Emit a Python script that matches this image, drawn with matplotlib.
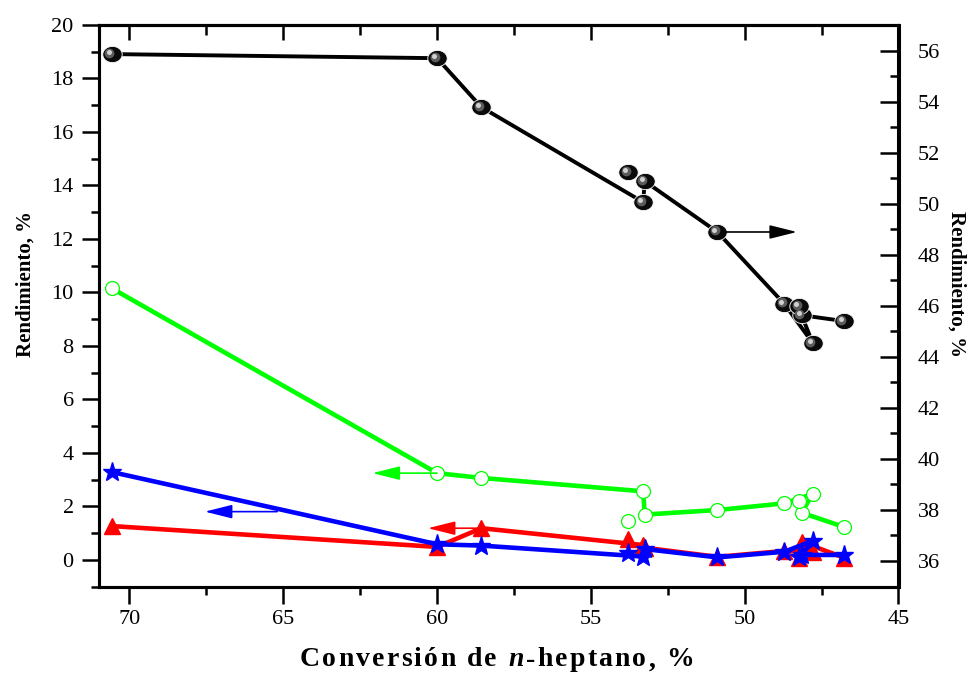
import numpy as np
import matplotlib
matplotlib.use("Agg")
import matplotlib.pyplot as plt
from matplotlib.ticker import MultipleLocator
from matplotlib.transforms import offset_copy
from matplotlib.path import Path
from matplotlib.offsetbox import TextArea, HPacker, AnchoredOffsetbox

plt.rcParams['font.family'] = ['Liberation Serif', 'DejaVu Serif']

# n-heptane conversion (%) for the connected runs, and two extra runs
conversion = [70.57, 60.0, 58.56, 53.30, 53.25, 50.89, 48.71, 47.79, 48.15, 46.78]
conversion_extra = [53.78, 48.22]

# yields (%) - left axis
green_yield = [10.15, 3.24, 3.06, 2.56, 1.69, 1.86, 2.11, 2.46, 1.76, 1.23]
green_extra = [1.46, 2.18]
red_yield = [1.26, 0.48, 1.18, 0.55, 0.45, 0.11, 0.33, 0.28, 0.67, 0.08]
red_extra = [0.78, 0.06]
blue_yield = [3.28, 0.58, 0.53, 0.12, 0.40, 0.09, 0.30, 0.71, 0.18, 0.18]
blue_extra = [0.26, 0.09]
# yield (%) - right axis
black_yield = [55.86, 55.70, 53.78, 50.06, 50.88, 48.89, 46.07, 44.54, 45.63, 45.40]
black_extra = [51.24, 45.99]

W, H = 969, 679
fig = plt.figure(figsize=(W / 100, H / 100), dpi=100)
left, right, top, bottom = 98.7 / W, 898.5 / W, 25 / H, 586.5 / H
ax = fig.add_axes([left, 1 - bottom, right - left, bottom - top])
ax2 = ax.twinx()

ax.set_xlim(71, 45)
ax.set_ylim(-1, 20)
ax2.set_ylim(35, 57)

GREEN, RED, BLUE = '#00ff00', '#ff0000', '#0000ff'
lw_c = 3.3

# green series: open circles
ax.plot(conversion, green_yield, color=GREEN, lw=lw_c, zorder=3)
for xs, ys in [(conversion, green_yield), (conversion_extra, green_extra)]:
    ax.plot(xs, ys, ls='none', marker='o', ms=10, mfc='white', mec=GREEN,
            mew=0.9, zorder=4)

# red series: triangles
ax.plot(conversion, red_yield, color=RED, lw=lw_c, zorder=5)
for xs, ys in [(conversion, red_yield), (conversion_extra, red_extra)]:
    ax.plot(xs, ys, ls='none', marker='^', ms=12, color=RED, mec=RED, zorder=6)

# blue series: stars
ax.plot(conversion, blue_yield, color=BLUE, lw=lw_c, zorder=7)
for xs, ys in [(conversion, blue_yield), (conversion_extra, blue_extra)]:
    ax.plot(xs, ys, ls='none', marker='*', ms=14, color=BLUE, mec=BLUE, zorder=8)

# black series on the right axis: shaded spheres
t = np.linspace(0, 2 * np.pi, 60)
ellipse = Path(np.column_stack([1.2 * np.cos(t), np.sin(t)]), closed=True)
ax2.plot(conversion, black_yield, color='black', lw=2.8, zorder=3)
hl1 = offset_copy(ax2.transData, fig=fig, x=-2.5, y=1.5, units='dots')
hl2 = offset_copy(ax2.transData, fig=fig, x=-3.0, y=2.0, units='dots')
for xs, ys in [(conversion, black_yield), (conversion_extra, black_extra)]:
    ax2.plot(xs, ys, ls='none', marker=ellipse, ms=14, mfc='#0a0a0a',
             mec='white', mew=0.6, zorder=4)
    ax2.plot(xs, ys, ls='none', marker='o', ms=7, mfc='#5c5c5c', mec='none',
             zorder=5, transform=hl1)
    ax2.plot(xs, ys, ls='none', marker='o', ms=3.6, mfc='#d0d0d0', mec='none',
             zorder=6, transform=hl2)

# arrows showing which axis each series belongs to
def arrow(a, tail, head, color):
    a.annotate('', xy=head, xytext=tail,
               arrowprops=dict(arrowstyle='-|>,head_length=1.2,head_width=0.3',
                               color=color, lw=1.2, shrinkA=0, shrinkB=0,
                               mutation_scale=14), zorder=9)

arrow(ax, (conversion[1], green_yield[1]), (62.1, green_yield[1]), GREEN)
arrow(ax, (conversion[2], red_yield[2]), (60.3, red_yield[2]), RED)
arrow(ax, (65.2, 1.8), (67.55, 1.8), BLUE)
arrow(ax2, (50.62, black_yield[5]), (48.3, black_yield[5]), 'black')

# ticks and spines
tick_font = 16
ax.xaxis.set_major_locator(MultipleLocator(5))
ax.xaxis.set_minor_locator(MultipleLocator(2.5))
ax.yaxis.set_major_locator(MultipleLocator(2))
ax.yaxis.set_minor_locator(MultipleLocator(1))
ax2.yaxis.set_major_locator(MultipleLocator(2))
ax2.yaxis.set_minor_locator(MultipleLocator(1))

ax.tick_params(axis='x', which='major', direction='out', length=12, width=1.8,
               labelsize=tick_font, pad=5, top=False)
ax.tick_params(axis='x', which='minor', direction='out', length=6, width=1.8, top=False)
ax.tick_params(axis='y', which='major', direction='out', length=12, width=1.8,
               labelsize=tick_font, pad=6, right=False)
ax.tick_params(axis='y', which='minor', direction='out', length=6, width=1.8, right=False)
ax2.tick_params(axis='y', which='major', direction='in', length=13, width=1.8,
                labelsize=tick_font, pad=14)
ax2.tick_params(axis='y', which='minor', direction='in', length=6, width=1.8)

sec = ax.secondary_xaxis('top')
sec.xaxis.set_major_locator(MultipleLocator(5))
sec.xaxis.set_minor_locator(MultipleLocator(2.5))
sec.tick_params(axis='x', which='major', direction='in', length=11, width=1.8,
                labeltop=False)
sec.tick_params(axis='x', which='minor', direction='in', length=7, width=1.8)
sec.spines['top'].set_linewidth(2.2)

for a in (ax, ax2):
    for s in a.spines.values():
        s.set_linewidth(2.2)

ax.set_ylabel('Rendimiento, %', fontsize=15, fontweight='bold', va='center')
ax.yaxis.set_label_coords(-0.092, 0.539)
ax2.set_ylabel('Rendimiento, %', fontsize=15, fontweight='bold', rotation=270,
               va='center')
ax2.yaxis.set_label_coords(1.073, 0.539)

# x-axis label with widened letter spacing and italic n
pieces = [("Conversión de ", 'normal'), ("n", 'italic'), ("-heptano, %", 'normal')]
chars = []
for txt, style in pieces:
    for ch in txt:
        chars.append(TextArea(ch, textprops=dict(fontsize=20, fontweight='bold',
                                                 fontstyle=style,
                                                 family='Liberation Serif')))
label_box = HPacker(children=chars, align='baseline', pad=0, sep=1.6)
anchored = AnchoredOffsetbox(loc='center', child=label_box, pad=0, borderpad=0,
                             frameon=False,
                             bbox_to_anchor=(497 / W, 1 - 660 / H),
                             bbox_transform=fig.transFigure)
fig.add_artist(anchored)

fig.savefig('out.png', dpi=100)
